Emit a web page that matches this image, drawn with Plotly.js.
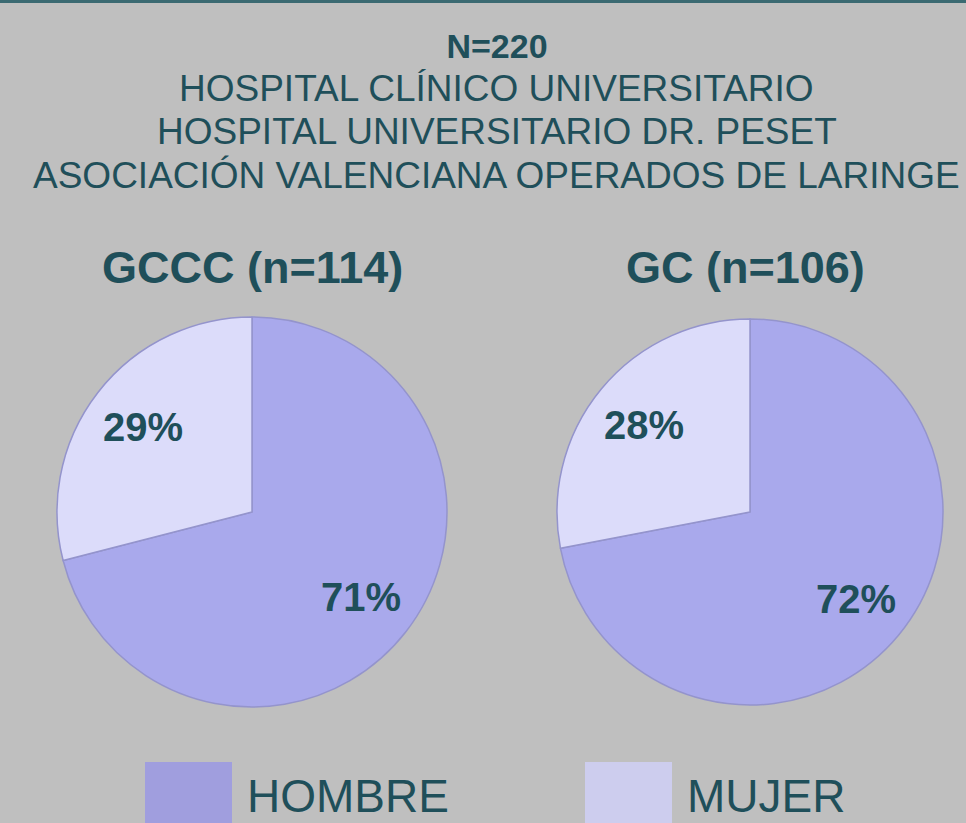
<!DOCTYPE html>
<html>
<head>
<meta charset="utf-8">
<script src="https://cdn.plot.ly/plotly-3.0.1.min.js"></script>
<style>html,body{margin:0;padding:0;background:#bfbfbf;}#chart{width:966px;height:823px;}</style>
</head>
<body>
<div id="chart"></div>
<script>
// ---- data ----
const categories = ["HOMBRE", "MUJER"];
const groupNames = ["GCCC (n=114)", "GC (n=106)"];
const gcccValues = [71, 29];
const gcValues = [72, 28];
const sliceColors = ["#a9a9ec", "#dcdcfa"];
const legendColors = ["#a09ede", "#cdcdee"];
const titleLines = ["N=220", "HOSPITAL CLÍNICO UNIVERSITARIO", "HOSPITAL UNIVERSITARIO DR. PESET", "ASOCIACIÓN VALENCIANA OPERADOS DE LARINGE"];

const textColor = "#1f4f5a";
const W = 966, H = 823;
const FONT = "Liberation Sans, Arial, sans-serif";

// pie geometry (pixels): center x, center y, radius
const pieGeom = [{cx: 252, cy: 512, r: 195}, {cx: 750, cy: 512, r: 193}];
const allValues = [gcccValues, gcValues];

function pieTrace(values, name, g) {
  return {
    type: "pie",
    name: name,
    labels: categories,
    values: values,
    sort: false,
    direction: "clockwise",
    rotation: 0,
    domain: {x: [(g.cx - g.r)/W, (g.cx + g.r)/W], y: [(H - g.cy - g.r)/H, (H - g.cy + g.r)/H]},
    marker: {colors: sliceColors, line: {color: "#9494cc", width: 1.5}},
    textinfo: "none",
    hoverinfo: "label+percent",
    showlegend: false
  };
}

const data = allValues.map((v, i) => pieTrace(v, groupNames[i], pieGeom[i]));

const annotations = [];
// percentage labels placed along each slice's mid-angle
allValues.forEach((vals, i) => {
  const g = pieGeom[i];
  const total = vals.reduce((a, b) => a + b, 0);
  let cum = 0;
  vals.forEach(v => {
    const mid = (cum + v/2) / total * 2 * Math.PI; // clockwise from top
    cum += v;
    const px = g.cx + 0.71 * g.r * Math.sin(mid);
    const py = g.cy - 0.71 * g.r * Math.cos(mid);
    annotations.push({xref: "paper", yref: "paper", x: px/W, y: 1 - py/H,
      xanchor: "center", yanchor: "middle", showarrow: false,
      text: "<b>" + Math.round(v/total*100) + "%</b>",
      font: {family: FONT, size: 40, color: textColor}});
  });
});
// title lines 2..4
const lineY = [88, 131, 175];
for (let i = 1; i < titleLines.length; i++) {
  annotations.push({
    xref: "paper", yref: "paper", x: 497/W, y: 1 - lineY[i-1]/H, xanchor: "center", yanchor: "middle",
    text: titleLines[i], showarrow: false,
    font: {family: FONT, size: 37, color: textColor}
  });
}
// pie subtitles
const subX = [252, 745];
groupNames.forEach((g, i) => annotations.push({
  xref: "paper", yref: "paper", x: subX[i]/W, y: 1 - 268/H, xanchor: "center", yanchor: "middle",
  text: "<b>" + g + "</b>", showarrow: false,
  font: {family: FONT, size: 45, color: textColor}
}));
// legend
const shapes = [
  {type: "line", xref: "paper", yref: "paper", x0: 0, x1: 1, y0: 1 - 1.5/H, y1: 1 - 1.5/H, line: {color: "#3b6a72", width: 3}}
];
const legX = [145, 585];
categories.forEach((c, i) => {
  shapes.push({type: "rect", xref: "paper", yref: "paper",
    x0: legX[i]/W, x1: (legX[i]+87)/W, y0: 0, y1: 1 - 762/H,
    fillcolor: legendColors[i], line: {width: 0}});
  annotations.push({xref: "paper", yref: "paper", x: (legX[i]+100)/W, y: 1 - 796/H,
    xanchor: "left", yanchor: "middle", text: c, showarrow: false,
    font: {family: FONT, size: 46, color: textColor}});
});

const layout = {
  width: W, height: H,
  margin: {l: 0, r: 0, t: 0, b: 0},
  paper_bgcolor: "#bfbfbf",
  plot_bgcolor: "#bfbfbf",
  title: {text: "<b>" + titleLines[0] + "</b>", x: 497/W, xanchor: "center", y: 1 - 46/H, yanchor: "middle",
    font: {family: FONT, size: 34, color: textColor}},
  showlegend: false,
  annotations: annotations,
  shapes: shapes
};

Plotly.newPlot("chart", data, layout, {displayModeBar: false, staticPlot: true});
</script>
</body>
</html>
